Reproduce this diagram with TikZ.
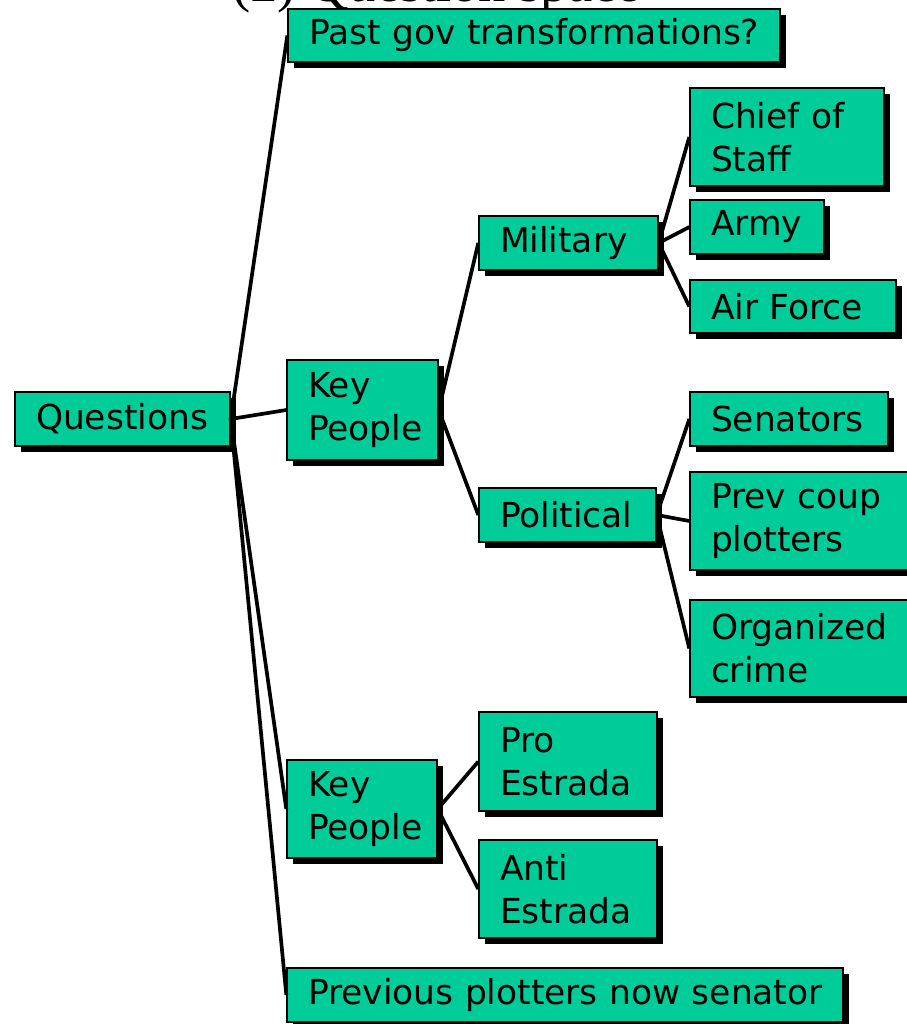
\documentclass[tikz,border=0pt]{standalone}
\usepackage{fontspec}
\setmainfont{DejaVu Sans}
\newfontfamily\titlefont{Liberation Serif}
\usetikzlibrary{shadows}
\definecolor{boxgreen}{RGB}{0,204,153}
\tikzset{
  box/.style={draw=black, line width=0.8pt, fill=boxgreen,
    drop shadow={shadow xshift=0.12cm, shadow yshift=-0.12cm, fill=black, opacity=1},
    align=left, inner xsep=0.42cm, inner ysep=0pt,
    font=\fontsize{19.6}{24.5}\selectfont, anchor=center},
  link/.style={line width=2.1pt, black}
}
\begin{document}
\begin{tikzpicture}[x=0.02cm,y=-0.02cm]
\useasboundingbox (0,0) rectangle (906,1024);
\node[font=\titlefont\fontsize{31}{31}\selectfont, anchor=base west, inner sep=0pt] (title) at (232,1.5) {(2) Question space};
\node[box, minimum width=9.84cm, minimum height=1.06cm, text width=9.0cm] (past) at (534,35.5) {\mbox{Past gov transformations?}};
\node[box, minimum width=3.88cm, minimum height=1.96cm, text width=3.04cm] (chief) at (787,137) {\mbox{Chief of}\\Staff};
\node[box, minimum width=2.68cm, minimum height=1.08cm, text width=1.84cm] (army) at (757,227) {\mbox{Army}};
\node[box, minimum width=4.12cm, minimum height=1.06cm, text width=3.28cm] (air) at (793,306.5) {\mbox{Air Force}};
\node[box, minimum width=3.58cm, minimum height=1.08cm, text width=2.74cm] (mil) at (568.5,243) {\mbox{Military}};
\node[box, minimum width=3.02cm, minimum height=2.0cm, text width=2.18cm] (kp1) at (362.5,410) {Key\\People};
\node[box, minimum width=4.3cm, minimum height=1.08cm, text width=3.46cm] (q) at (122.5,419) {\mbox{Questions}};
\node[box, minimum width=3.96cm, minimum height=1.08cm, text width=3.12cm] (sen) at (789,419) {\mbox{Senators}};
\node[box, minimum width=3.54cm, minimum height=1.08cm, text width=2.7cm] (pol) at (567.5,515) {\mbox{Political}};
\node[box, minimum width=4.44cm, minimum height=1.96cm, text width=3.6cm] (coup) at (801,521) {\mbox{Prev coup}\\plotters};
\node[box, minimum width=4.44cm, minimum height=1.94cm, text width=3.6cm] (crime) at (801,648.5) {\mbox{Organized}\\crime};
\node[box, minimum width=3.0cm, minimum height=1.96cm, text width=2.16cm] (kp2) at (362,809) {Key\\People};
\node[box, minimum width=3.56cm, minimum height=1.98cm, text width=2.72cm] (pro) at (568,761.5) {Pro\\Estrada};
\node[box, minimum width=3.56cm, minimum height=1.96cm, text width=2.72cm] (anti) at (568,889) {Anti\\Estrada};
\node[box, minimum width=11.12cm, minimum height=1.08cm, text width=10.28cm] (prev) at (565,995) {\mbox{Previous plotters now senator}};
\draw[link] (q.east) -- (past.west);
\draw[link] (q.east) -- (kp1.west);
\draw[link] (q.east) -- (kp2.west);
\draw[link] (q.east) -- (prev.west);
\draw[link] (kp1.east) -- (mil.west);
\draw[link] (kp1.east) -- (pol.west);
\draw[link] (mil.east) -- (chief.west);
\draw[link] (mil.east) -- (army.west);
\draw[link] (mil.east) -- (air.west);
\draw[link] (pol.east) -- (sen.west);
\draw[link] (pol.east) -- (coup.west);
\draw[link] (pol.east) -- (crime.west);
\draw[link] (kp2.east) -- (pro.west);
\draw[link] (kp2.east) -- (anti.west);
\end{tikzpicture}
\end{document}
